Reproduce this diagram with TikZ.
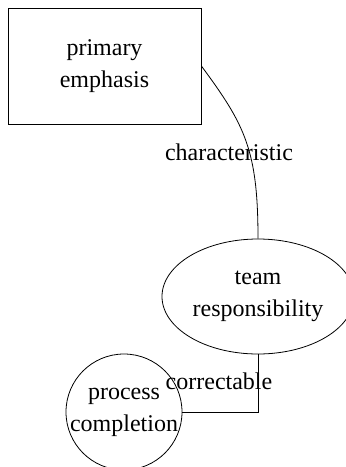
\documentclass[tikz,border=0pt]{standalone}
\usepackage{fontspec}
\setmainfont{Liberation Serif}
\usepackage{tikz}
\usetikzlibrary{shapes.geometric}

\begin{document}
\begin{tikzpicture}[x=0.5pt, y=-0.5pt,
    every node/.style={font=\fontsize{12}{16}\selectfont, align=center},
    box/.style={rectangle, draw, thin, minimum width=96.5pt, minimum height=58pt, inner sep=0pt},
    oval/.style={ellipse, draw, thin, minimum width=96pt, minimum height=57.5pt, inner sep=0pt},
    disc/.style={circle, draw, thin, minimum size=58pt, inner sep=-2pt},
    lbl/.style={inner sep=0pt}]
  \useasboundingbox (0,0) rectangle (346,467);
  % Nodes
  \node[box] (prim) at (104.5,66) {primary\\emphasis};
  \node[oval] (team) at (258,296.5) {team\\responsibility};
  \node[disc] (proc) at (124,412) {process\\completion};
  % Edges
  \draw[thin] (prim.east) .. controls (245,125) and (258,150) .. (team.north);
  \node[lbl] (char) at (229,152) {characteristic};
  \draw[thin] (team.south) |- (proc.east);
  \node[lbl] (corr) at (219,381) {correctable};
\end{tikzpicture}
\end{document}
